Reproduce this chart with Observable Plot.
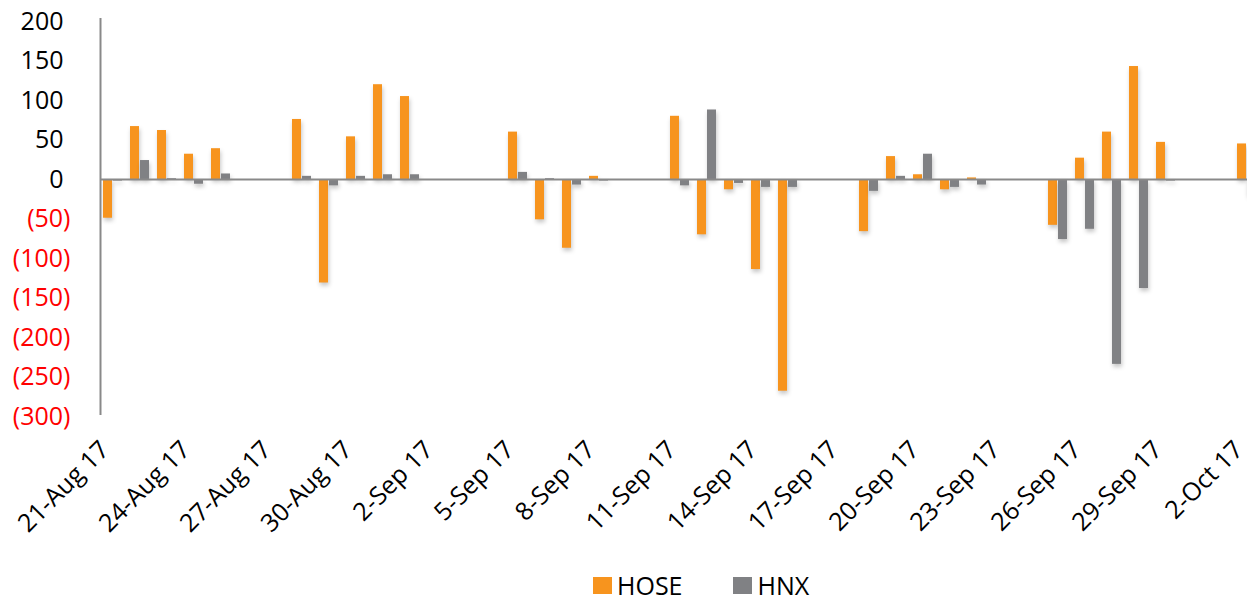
<!DOCTYPE html>
<html>
<head>
<meta charset="utf-8">
<script src="https://cdn.jsdelivr.net/npm/d3@7"></script>
<script src="https://cdn.jsdelivr.net/npm/@observablehq/plot@0.6"></script>
<style>
  html, body { margin: 0; padding: 0; background: #fff; overflow: hidden; }
  #wrap { width: 1247px; height: 601px; overflow: hidden; position: relative; font-family: "Open Sans", sans-serif; }
  #chart svg { max-width: none !important; }
  #legend { position: absolute; left: 593px; top: 570px; display: flex; align-items: center; font-size: 25px; line-height: 30px; color: #000; }
  #legend .sw { width: 19px; height: 17px; display: inline-block; margin-right: 5px; }
  #legend .item { display: flex; align-items: center; }
  .bars rect { filter: drop-shadow(1px 3px 2px rgba(0,0,0,0.22)); }
</style>
</head>
<body>
<div id="wrap">
  <div id="chart"></div>
  <div id="legend"></div>
</div>
<script>
// Trading dates and net values (HOSE / HNX)
const tradingDates = [
  "2017-08-21","2017-08-22","2017-08-23","2017-08-24","2017-08-25",
  "2017-08-28","2017-08-29","2017-08-30","2017-08-31","2017-09-01",
  "2017-09-05","2017-09-06","2017-09-07","2017-09-08",
  "2017-09-11","2017-09-12","2017-09-13","2017-09-14","2017-09-15",
  "2017-09-18","2017-09-19","2017-09-20","2017-09-21","2017-09-22",
  "2017-09-25","2017-09-26","2017-09-27","2017-09-28","2017-09-29",
  "2017-10-02"
];
const hoseValues = [-49, 67, 62, 32, 39, 76, -131, 54, 120, 105, 60, -51, -87, 4, 80, -70, -13, -114, -268, -66, 29, 6, -13, 2, -58, 27, 60, 143, 47, 45];
const hnxValues  = [-2, 24, 1, -6, 7, 4, -8, 4, 6, 6, 9, 1, -7, -2, -8, 88, -5, -10, -10, -15, 4, 32, -10, -7, -76, -63, -234, -138, -2, -20];
const seriesNames = ["HOSE", "HNX"];
const seriesColors = ["#F7941E", "#808184"];
const yTicksPos = [0, 50, 100, 150, 200];
const yTicksNeg = [-50, -100, -150, -200, -250, -300];
const startDay = "2017-08-21";
const endDay = "2017-10-02";

const parse = d3.utcParse("%Y-%m-%d");
const fmtKey = d3.utcFormat("%Y-%m-%d");
const calendar = d3.utcDay.range(parse(startDay), d3.utcDay.offset(parse(endDay), 1)).map(fmtKey);
const xTicks = calendar.filter((d, i) => i % 3 === 0);
const labelFmt = d3.utcFormat("%-d-%b %y");

const hose = tradingDates.map((d, i) => ({date: d, value: hoseValues[i], series: "HOSE"}));
const hnx = tradingDates.map((d, i) => ({date: d, value: hnxValues[i], series: "HNX"}));

const font = "Open Sans, sans-serif";

const chart = Plot.plot({
  width: 1262,
  height: 560,
  marginLeft: 100,
  marginRight: 1,
  marginTop: 21,
  marginBottom: 144,
  style: {fontFamily: font, fontSize: "24px", background: "transparent", overflow: "visible"},
  x: {type: "band", domain: calendar, padding: 0, round: false, label: null},
  y: {domain: [-300, 200], label: null},
  marks: [
    Plot.barY(hose, {x: "date", y: "value", fill: seriesColors[0], insetLeft: 3, insetRight: 15, className: "bars"}),
    Plot.barY(hnx, {x: "date", y: "value", fill: seriesColors[1], insetLeft: 13, insetRight: 5, className: "bars"}),
    Plot.ruleY([0], {stroke: "#898989", strokeWidth: 2}),
    Plot.ruleX([calendar[0]], {y1: -300, y2: 200, stroke: "#898989", strokeWidth: 2, insetTop: -1, insetBottom: 3, dx: -13.5}),
    Plot.axisY({ticks: yTicksPos, tickSize: 0, tickPadding: 37, fill: "#000", fontSize: 25, tickFormat: d => d3.format(",")(d)}),
    Plot.axisY({ticks: yTicksNeg, tickSize: 0, tickPadding: 30, fill: "#FF0000", fontSize: 25, tickFormat: d => "(" + d3.format(",")(-d) + ")"}),
    Plot.axisX({ticks: xTicks, tickSize: 0, tickPadding: 22, tickRotate: -45, fontSize: 25, dx: -9, dy: 7, fill: "#000", tickFormat: d => labelFmt(parse(d))})
  ]
});
document.getElementById("chart").appendChild(chart);

const legend = document.getElementById("legend");
seriesNames.forEach((name, i) => {
  const item = document.createElement("div");
  item.className = "item";
  if (i > 0) item.style.marginLeft = "51px";
  const sw = document.createElement("span");
  sw.className = "sw";
  sw.style.background = seriesColors[i];
  const t = document.createElement("span");
  t.textContent = name;
  item.appendChild(sw);
  item.appendChild(t);
  legend.appendChild(item);
});
</script>
</body>
</html>
